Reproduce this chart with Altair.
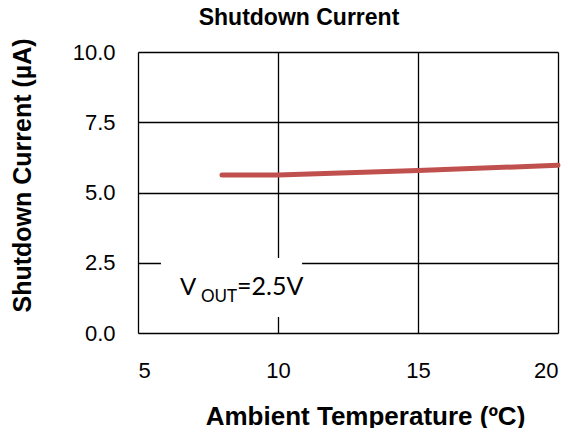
import altair as alt
import pandas as pd

# Data
temps = [8, 10, 15, 20]
currents = [5.62, 5.62, 5.78, 5.97]
x_ticks = [5, 10, 15, 20]
y_ticks = [0, 2.5, 5, 7.5, 10]

# annotation anchor (data units) and its white background box
note_x = [6.5]
note_y = [1.35]
box_x = [5.82]
box_x2 = [10.86]
box_y = [0.57]
box_y2 = [2.67]

df = pd.DataFrame({"t": temps, "i": currents})
note_df = pd.DataFrame({"t": note_x, "i": note_y})
box_df = pd.DataFrame({"t": box_x, "t2": box_x2, "i": box_y, "i2": box_y2})

xscale = alt.Scale(domain=[5, 20], nice=False, zero=False)
yscale = alt.Scale(domain=[0, 10], nice=False)

xaxis = alt.Axis(
    values=x_ticks, title="Ambient Temperature (ºC)", format="d",
    ticks=False, domain=False, labelPadding=27,
    grid=True, gridColor="black", gridWidth=1.3, gridOpacity=1,
    labelFont="Liberation Sans", labelFontSize=22, labelColor="black",
    titleFont="Liberation Sans", titleFontSize=26, titleFontWeight="bold",
    titleColor="black", titleX=227, titleY=83, titleBaseline="middle",
)
yaxis = alt.Axis(
    values=y_ticks, title="Shutdown Current (µA)", format=".1f",
    ticks=False, domain=False, labelPadding=23,
    grid=True, gridColor="black", gridWidth=1.3, gridOpacity=1,
    labelFont="Liberation Sans", labelFontSize=22, labelColor="black",
    titleFont="Liberation Sans", titleFontSize=25, titleFontWeight="bold",
    titleColor="black", titleX=-116, titleY=123, titleBaseline="middle",
    titleAngle=-90,
)

X = alt.X("t:Q", scale=xscale, axis=xaxis)
Y = alt.Y("i:Q", scale=yscale, axis=yaxis)

box = alt.Chart(box_df).mark_rect(fill="white", stroke=None).encode(
    x=X, x2="t2:Q", y=Y, y2="i2:Q"
)

line = alt.Chart(df).mark_line(
    color="#C0504D", strokeWidth=5, strokeCap="round", strokeJoin="round"
).encode(x=X, y=Y)

t_v = alt.Chart(note_df).mark_text(
    text="V", align="left", baseline="alphabetic", font="Lato",
    fontSize=24, color="black"
).encode(x=X, y=Y)
t_sub = alt.Chart(note_df).mark_text(
    text="OUT", align="left", baseline="alphabetic", font="Lato",
    fontSize=17, color="black", dx=21, dy=7
).encode(x=X, y=Y)
t_rest = alt.Chart(note_df).mark_text(
    text="=2.5V", align="left", baseline="alphabetic", font="Lato",
    fontSize=25, color="black", dx=57
).encode(x=X, y=Y)

chart = alt.layer(box, line, t_v, t_sub, t_rest).properties(
    width=420, height=281,
    autosize=alt.AutoSizeParams(type="none"),
    padding={"left": 130, "top": 44, "right": 10, "bottom": 95},
    title=alt.TitleParams(
        "Shutdown Current", font="Liberation Sans", fontSize=23,
        fontWeight="bold", color="black", anchor="middle", dx=-49, offset=8
    ),
).configure_view(stroke="black", strokeWidth=2).configure(background="white")

chart.save("out.html", embed_options={"renderer": "svg", "actions": False})
